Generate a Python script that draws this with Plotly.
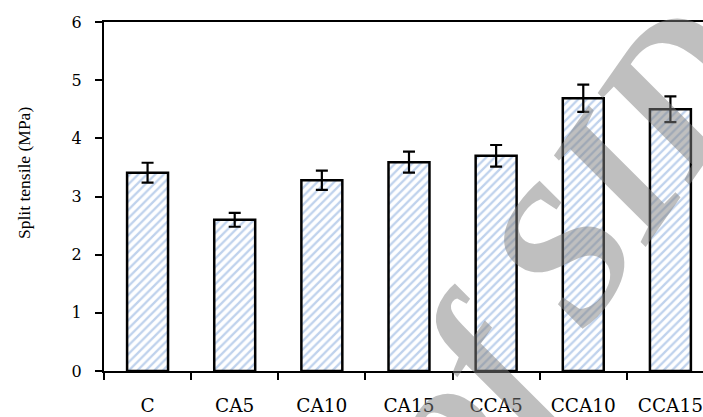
import plotly.graph_objects as go

categories = ["C", "CA5", "CA10", "CA15", "CCA5", "CCA10", "CCA15"]
values = [3.41, 2.60, 3.28, 3.59, 3.70, 4.69, 4.50]
errors = [0.17, 0.12, 0.165, 0.18, 0.185, 0.235, 0.22]
y_ticks = [0, 1, 2, 3, 4, 5, 6]

W, H = 703, 417
L, R, T, B = 104, 0, 22, 46
pw, ph = W - L - R, H - T - B

def px_x(p):
    return (p - L) / pw

def px_y(p):
    return (H - B - p) / ph

fig = go.Figure()
fig.add_trace(go.Bar(
    x=categories, y=values, width=0.47,
    marker=dict(
        color="white",
        line=dict(color="black", width=2.5),
        pattern=dict(shape="/", fgcolor="#7fa5da", bgcolor="white", size=6, solidity=0.38),
    ),
    error_y=dict(type="data", array=errors, visible=True, color="black", thickness=2.2, width=6),
))

fig.update_layout(
    width=W, height=H,
    margin=dict(l=L, r=R, t=T, b=B),
    paper_bgcolor="white", plot_bgcolor="white",
    showlegend=False,
    xaxis=dict(
        range=[-0.5, 6.374], showline=True, linecolor="black", linewidth=2, mirror=True,
        ticks="outside", ticklen=7, tickwidth=2, tickcolor="black", tickson="boundaries",
        tickfont=dict(family="DejaVu Serif", size=18.5, color="black"),
        ticklabelstandoff=17, showgrid=False, zeroline=False,
    ),
    yaxis=dict(
        range=[0, 6], tickvals=y_ticks, showline=True, linecolor="black", linewidth=2,
        ticks="outside", ticklen=7, tickwidth=2, tickcolor="black",
        tickfont=dict(family="DejaVu Serif", size=16, color="black"),
        ticklabelstandoff=10, showgrid=False, zeroline=False,
    ),
    annotations=[
        dict(text="Split tensile (MPa)", xref="paper", yref="paper",
             x=px_x(24), y=px_y(173), xanchor="center", yanchor="middle",
             textangle=-90, showarrow=False,
             font=dict(family="Liberation Serif", size=17.5, color="black")),
        dict(text="<b><i>of SID</i></b>", xref="paper", yref="paper",
             x=px_x(563), y=px_y(250), xanchor="center", yanchor="middle",
             textangle=-55, showarrow=False,
             font=dict(family="Liberation Serif", size=195, color="rgba(128,128,128,0.5)")),
    ],
)

fig.write_html("out.html", config={"displayModeBar": False},
               post_script="document.body.style.margin='0';document.body.style.padding='0';")
